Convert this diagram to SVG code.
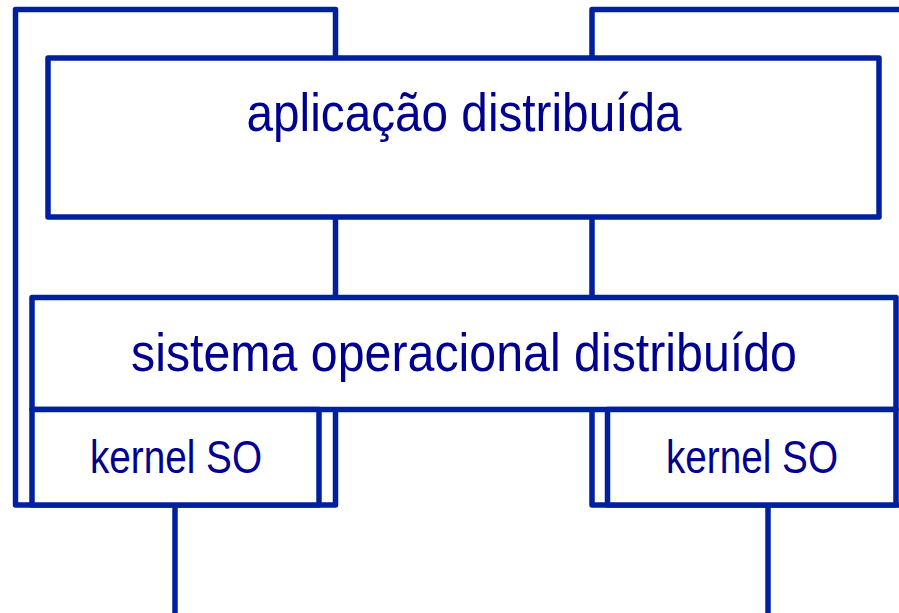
<svg xmlns="http://www.w3.org/2000/svg" width="899" height="613" viewBox="0 0 899 613">
<style>
.b{fill:#fff;stroke:#0020a0;stroke-width:5.5;stroke-linejoin:round}
.f{fill:none;stroke:#0020a0;stroke-width:5.5;stroke-linejoin:round}
.l{stroke:#0020a0;stroke-width:5.5;fill:none}
.t{font-family:"Liberation Sans Narrow","Liberation Sans",Arial,sans-serif;fill:#000090;text-anchor:middle}
</style>
<rect width="899" height="613" fill="#fff"/>
<g id="machine-left"><rect class="f" x="15.5" y="9.5" width="320" height="495.5"/></g>
<g id="machine-right"><rect class="f" x="592" y="9.5" width="320" height="495.5"/></g>
<g id="connectors">
<line class="l" x1="175" y1="505" x2="175" y2="613"/>
<line class="l" x1="768" y1="505" x2="768" y2="613"/>
</g>
<g id="app">
<rect class="b" x="48" y="58" width="831" height="159"/>
<text class="t" x="464" y="131" font-size="54" textLength="435" lengthAdjust="spacingAndGlyphs">aplicação distribuída</text>
</g>
<g id="os">
<rect class="b" x="32" y="297.5" width="864" height="112"/>
<text class="t" x="464" y="371" font-size="54" textLength="666" lengthAdjust="spacingAndGlyphs">sistema operacional distribuído</text>
</g>
<g id="kernel-left">
<rect class="b" x="32" y="409.5" width="287" height="95.5"/>
<text class="t" x="176" y="473" font-size="47" textLength="172" lengthAdjust="spacingAndGlyphs">kernel SO</text>
</g>
<g id="kernel-right">
<rect class="b" x="607.5" y="409.5" width="288.5" height="95.5"/>
<text class="t" x="752" y="473" font-size="47" textLength="172" lengthAdjust="spacingAndGlyphs">kernel SO</text>
</g>
</svg>
